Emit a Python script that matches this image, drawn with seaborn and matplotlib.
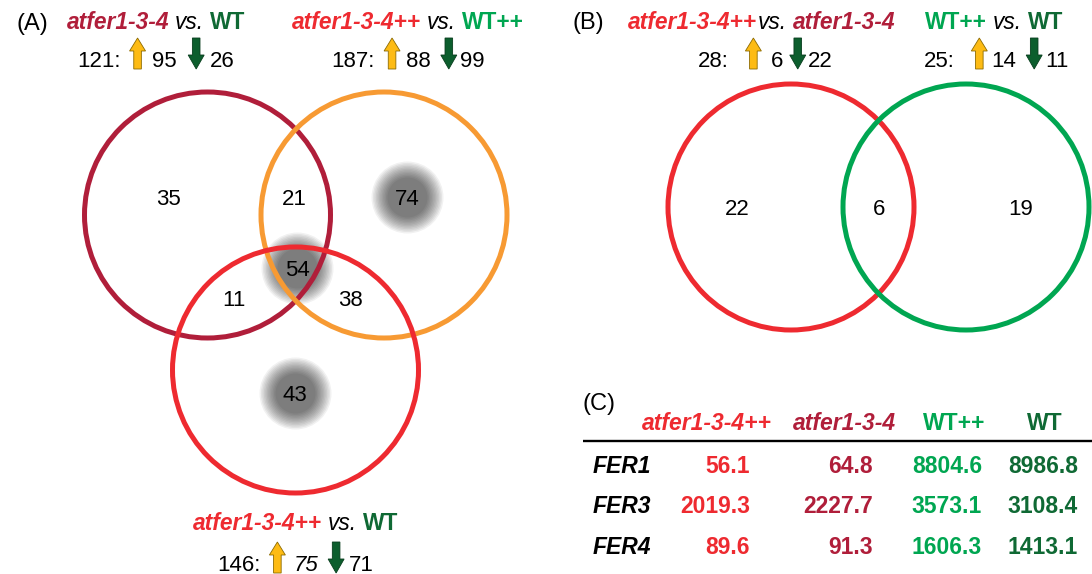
import matplotlib
matplotlib.use("Agg")
import matplotlib.pyplot as plt
import numpy as np
import pandas as pd
import seaborn as sns
from matplotlib.patches import Circle, Polygon

# ---- data ----
A_SETS = ["atfer1-3-4 vs. WT", "atfer1-3-4++ vs. WT++", "atfer1-3-4++ vs. WT"]
A_TOTAL = [121, 187, 146]
A_UP = [95, 88, 75]
A_DOWN = [26, 99, 71]
A_REGIONS = ["1", "12", "2", "123", "13", "23", "3"]
A_COUNTS = [35, 21, 74, 54, 11, 38, 43]
A_HIGHLIGHT = ["2", "123", "3"]

B_SETS = ["atfer1-3-4++ vs. atfer1-3-4", "WT++ vs. WT"]
B_TOTAL = [28, 25]
B_UP = [6, 14]
B_DOWN = [22, 11]
B_REGIONS = ["1", "12", "2"]
B_COUNTS = [22, 6, 19]

GENES = ["FER1", "FER3", "FER4"]
LINES = ["atfer1-3-4++", "atfer1-3-4", "WT++", "WT"]
EXPR_MUT_FE = [56.1, 2019.3, 89.6]
EXPR_MUT = [64.8, 2227.7, 91.3]
EXPR_WT_FE = [8804.6, 3573.1, 1606.3]
EXPR_WT = [8986.8, 3108.4, 1413.1]

# ---- colours / layout (pixel space, y down) ----
W, H = 1092, 574
DKRED = "#B01E3A"
RED = "#EE2A30"
ORANGE = "#F79A33"
GREEN = "#00A651"
DKGREEN = "#0F6934"
UP_FILL, UP_EDGE = "#FDBB14", "#8C6A00"
DN_FILL, DN_EDGE = "#0C5E2D", "#083D1D"
R = 123
ARROW_W = 16

A_CIRCLES = [((207.5, 215), DKRED), ((384, 215), ORANGE), ((295.5, 370), RED)]
A_POS = {"1": (168, 197), "12": (294, 197), "2": (407, 197), "123": (297, 268),
         "13": (234, 298), "23": (350, 298), "3": (295, 393)}
B_CIRCLES = [((791, 207), RED), ((966, 207), GREEN)]
B_POS = {"1": (737, 207), "12": (879, 207), "2": (1021, 207)}

FONT = ["Liberation Sans", "DejaVu Sans"]


def draw_arrow(ax, kind, x0, base):
    xc = x0 + ARROW_W / 2
    top, bot = base - 29, base + 2
    if kind == "up":
        yh = top + 13
        pts = [(xc, top), (x0 + ARROW_W, yh), (xc + 3.8, yh), (xc + 3.8, bot),
               (xc - 3.8, bot), (xc - 3.8, yh), (x0, yh)]
        fc, ec = UP_FILL, UP_EDGE
    else:
        yh = bot - 14
        pts = [(xc, bot), (x0 + ARROW_W, yh), (xc + 3.8, yh), (xc + 3.8, top),
               (xc - 3.8, top), (xc - 3.8, yh), (x0, yh)]
        fc, ec = DN_FILL, DN_EDGE
    ax.add_patch(Polygon(pts, closed=True, fc=fc, ec=ec, lw=0.6, zorder=5))


def draw_run(ax, xc, y, items, size):
    renderer = ax.figure.canvas.get_renderer()
    placed = []
    cur = 0.0
    for it in items:
        if it[0] == "gap":
            cur += it[1]
        elif it[0] in ("up", "down"):
            placed.append((it[0], None, cur))
            cur += ARROW_W
        else:
            _, s, color, weight, style = it
            t = ax.text(cur, y, s, fontsize=size, color=color, fontweight=weight,
                        fontstyle=style, ha="left", va="baseline", zorder=6)
            placed.append(("text", t, cur))
            cur += t.get_window_extent(renderer).width
    x0 = xc - cur / 2
    for kind, t, off in placed:
        if kind == "text":
            t.set_x(x0 + off)
        else:
            draw_arrow(ax, kind, x0 + off, y)


def name_parts(name):
    # "atfer..." bold italic, "vs." italic, WT bold upright
    left, right = name.split(" vs. ")
    out = []
    for i, nm in enumerate([left, right]):
        if nm.startswith("atfer"):
            col = RED if nm.endswith("++") else DKRED
            out.append(("t", nm, col, "bold", "italic"))
        else:
            col = GREEN if nm.endswith("++") else DKGREEN
            out.append(("t", nm, col, "bold", "normal"))
        if i == 0:
            gap = 1 if name.startswith("atfer1-3-4++ vs. atfer") else 6
            out += [("gap", gap), ("t", "vs.", "black", "normal", "italic"), ("gap", 6)]
    return out


def count_parts(total, up, down, gaps, up_italic=False):
    g = gaps
    return [("t", f"{total}:", "black", "normal", "normal"), ("gap", g[0]), ("up",), ("gap", g[1]),
            ("t", str(up), "black", "normal", "italic" if up_italic else "normal"),
            ("gap", g[2]), ("down",), ("gap", g[3]),
            ("t", str(down), "black", "normal", "normal")]


def glow(ax, pts):
    df = pd.DataFrame(pts, columns=["x", "y"])
    diam = np.linspace(72, 40, 12)
    for d in diam:
        sns.scatterplot(data=df, x="x", y="y", s=(d * 0.72) ** 2, color="black",
                        alpha=0.056, linewidth=0, edgecolor=None, ax=ax, legend=False, zorder=1)


sns.set_theme(style="white")
plt.rcParams["font.family"] = FONT

fig = plt.figure(figsize=(W / 100, H / 100), dpi=100)
ax = fig.add_axes([0, 0, 1, 1])

# panel A
glow(ax, [A_POS[k] for k in A_HIGHLIGHT])
for (c, col) in A_CIRCLES:
    ax.add_patch(Circle(c, R, fill=False, ec=col, lw=3.6, zorder=3))
for reg, n in zip(A_REGIONS, A_COUNTS):
    x, y = A_POS[reg]
    ax.text(x, y + 8, str(n), fontsize=16, ha="center", va="baseline", color="black", zorder=6)

ax.text(17, 30, "(A)", fontsize=17, ha="left", va="baseline", color="black")
name_centers = [(156, 29, 67), (408, 29, 67), (295.5, 530, 571)]
count_gaps = [(9, 6, 12, 6), (9, 6, 10, 3), (9, 8, 10, 5)]
for i, (cx, yn, yc) in enumerate(name_centers):
    draw_run(ax, cx, yn, name_parts(A_SETS[i]), 16.4)
    draw_run(ax, cx, yc, count_parts(A_TOTAL[i], A_UP[i], A_DOWN[i], count_gaps[i], up_italic=(i == 2)), 16)

# panel B
for (c, col) in B_CIRCLES:
    ax.add_patch(Circle(c, R, fill=False, ec=col, lw=3.6, zorder=3))
for reg, n in zip(B_REGIONS, B_COUNTS):
    x, y = B_POS[reg]
    ax.text(x, y + 8, str(n), fontsize=16, ha="center", va="baseline", color="black", zorder=6)

ax.text(573, 29, "(B)", fontsize=17, ha="left", va="baseline", color="black")
b_centers = [(762, 765), (994, 996)]
b_gaps = [(17, 10, 6, 2), (17, 4, 10, 3)]
for i, (cn, cc) in enumerate(b_centers):
    draw_run(ax, cn, 29, name_parts(B_SETS[i]), 16.4)
    draw_run(ax, cc, 67, count_parts(B_TOTAL[i], B_UP[i], B_DOWN[i], b_gaps[i]), 16)

# panel C table
ax.text(583, 410, "(C)", fontsize=17, ha="left", va="baseline", color="black")
col_colors = [RED, DKRED, GREEN, DKGREEN]
head_x = [707, 844, 954, 1045]
val_right = [750, 873, 982, 1078]
row_y = [473, 513, 554]
values = [EXPR_MUT_FE, EXPR_MUT, EXPR_WT_FE, EXPR_WT]
for j, name in enumerate(LINES):
    style = "italic" if name.startswith("atfer") else "normal"
    ax.text(head_x[j], 430, name, fontsize=16.5, fontweight="bold", fontstyle=style,
            color=col_colors[j], ha="center", va="baseline")
ax.plot([583, W], [441, 441], color="black", lw=1.7, solid_capstyle="butt")
for i, g in enumerate(GENES):
    ax.text(593, row_y[i], g, fontsize=16.5, fontweight="bold", fontstyle="italic",
            color="black", ha="left", va="baseline")
    for j in range(len(LINES)):
        ax.text(val_right[j], row_y[i], f"{values[j][i]:.1f}", fontsize=16.5, fontweight="bold",
                color=col_colors[j], ha="right", va="baseline")

ax.set_xlim(0, W)
ax.set_ylim(H, 0)
ax.axis("off")
fig.savefig("out.png", dpi=100, facecolor="white")
